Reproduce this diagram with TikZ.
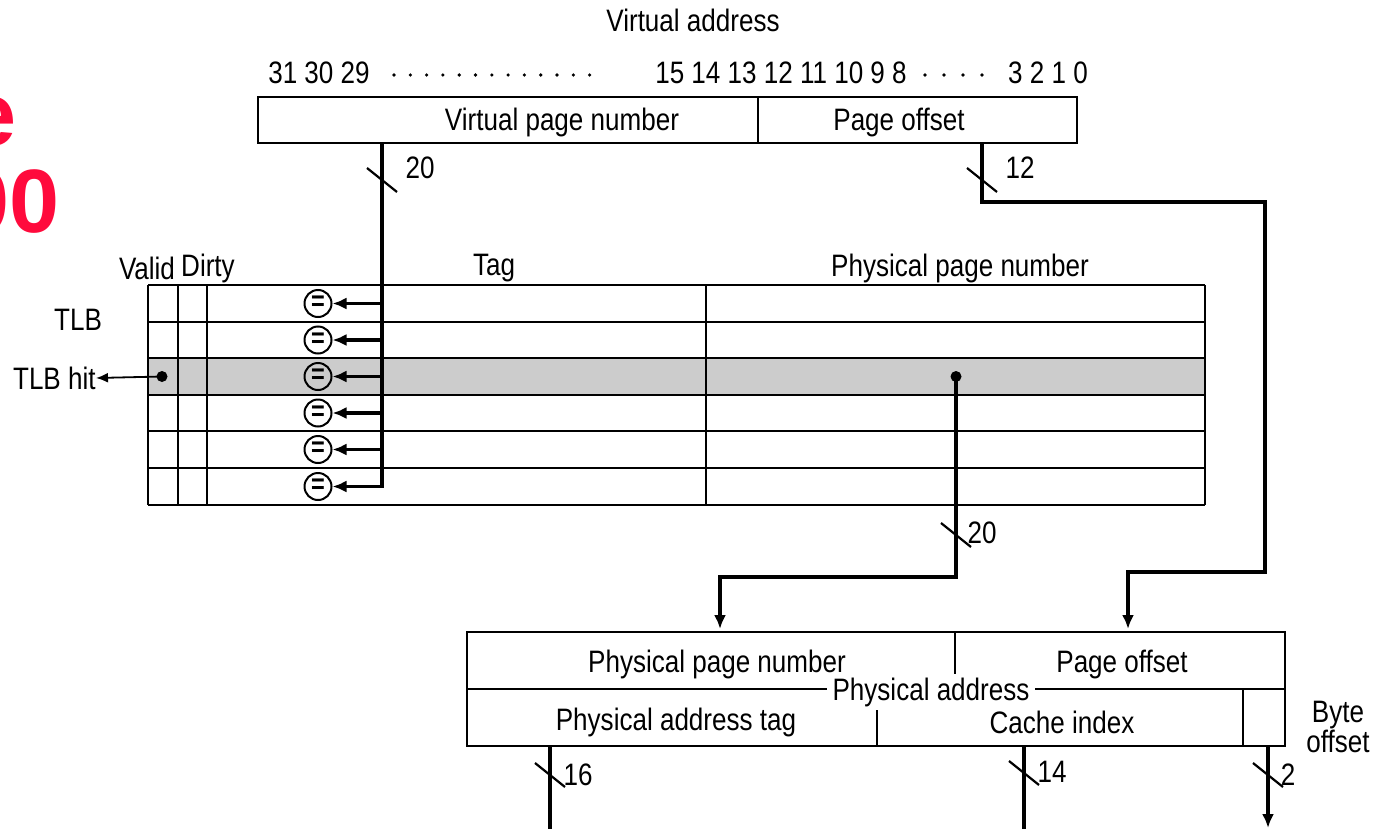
\documentclass[tikz,border=0pt]{standalone}
\usepackage{fontspec}
\usepackage{xcolor}
\usepackage{tikz}
\usetikzlibrary{arrows.meta, positioning}
\setmainfont{Liberation Sans}[FakeStretch=0.84]
\newfontfamily\titlefont{Liberation Sans}
\definecolor{cTitle}{HTML}{FF0A3C}
\definecolor{cHit}{HTML}{CCCCCC}
\newcommand{\lbl}{\fontsize{15.5}{15}\selectfont}

\begin{document}
\begin{tikzpicture}[x=0.5pt, y=-0.5pt, every node/.style={font=\lbl, inner sep=0pt},
  grid/.style={line width=1pt},
  wire/.style={line width=1.7pt},
  arr/.style={wire, -{Latex[length=7pt, width=6pt]}},
  hitarr/.style={line width=0.9pt, -{Latex[length=6pt, width=5pt]}},
  cut/.style={line width=1.1pt},
  eq/.style={circle, draw, line width=1pt, minimum size=13.5pt, font=\fontsize{14}{14}\selectfont\bfseries}]
  \useasboundingbox (0,0) rectangle (1374,829);
  % slide title, cut off at the left
  \node[anchor=base east, font=\titlefont\fontsize{45}{45}\selectfont\bfseries, text=cTitle] (ttop) at (17,145) {e};
  \node[anchor=base east, font=\titlefont\fontsize{45}{45}\selectfont\bfseries, text=cTitle] (tbot) at (60,232) {00};
  % virtual address
  \node (vaddr) at (693,20) {Virtual address};
  \node (bhi) at (319,73) {31 30 29};
  \node (bmid) at (781,73) {15 14 13 12 11 10 9 8};
  \node (blo) at (1048,73) {3 2 1 0};
  \foreach \i in {0,...,12} \fill (394+\i*16.3,75) circle (1.8);
  \foreach \i in {0,...,3} \fill (925+\i*19,75) circle (1.8);
  \draw[grid] (258,97) rectangle (1077,143);
  \draw[grid] (758,97) -- (758,143);
  \node (vpn) at (562,122) {Virtual page number};
  \node (voff) at (899,122) {Page offset};
  % TLB
  \fill[cHit] (148,358) rectangle (1205,395);
  \foreach \y in {285,322,358,395,431,468,505} \draw[grid] (148,\y) -- (1205,\y);
  \foreach \x in {148,178,207,706,1205} \draw[grid] (\x,285) -- (\x,505);
  \node (valid) at (147,268) {Valid};
  \node (dirty) at (208,268) {Dirty};
  \node (tag) at (494,268) {Tag};
  \node (tppn) at (960,268) {Physical page number};
  \node (tlb) at (78,320) {TLB};
  \node[anchor=east] (tlbhit) at (96,378) {TLB hit};
  \foreach \y [count=\k] in {303.5,340,376.5,413,449.5,486.5} {
    \node[eq] (eq\k) at (318,\y) {=};
    \draw[arr] (382,\y) -- (eq\k.east);
  }
  \coordinate (vs) at (382,143);
  \coordinate (ve) at (382,487.5);
  \draw[wire] (vs) -- (ve);
  \draw[cut] (367,168) -- (397,192);
  \node (w20a) at (420,168) {20};
  \fill (162,376.5) circle (5.5);
  \draw[hitarr] (162,376.5) -- (tlbhit.east);
  % page offset path
  \coordinate (os) at (982,143);
  \draw[arr] (os) -- (982,202) -- (1265,202) -- (1265,572) -- (1128,572) -- (1128,629);
  \draw[cut] (967,168) -- (997,192);
  \node (w12) at (1020,168) {12};
  % physical page number path
  \fill (956,376.5) circle (5.5);
  \draw[arr] (956,376.5) -- (956,577) -- (720,577) -- (720,629);
  \draw[cut] (941,523) -- (971,547);
  \node (w20b) at (982,533) {20};
  % physical address
  \draw[grid] (467,632) rectangle (1285,746);
  \draw[grid] (467,689) -- (1285,689);
  \draw[grid] (955,632) -- (955,689);
  \draw[grid] (877,689) -- (877,746);
  \draw[grid] (1243,689) -- (1243,746);
  \node (pppn) at (717,664) {Physical page number};
  \node (poff) at (1122,664) {Page offset};
  \node[fill=white, inner xsep=3pt, inner ysep=2pt] (paddr) at (931,692) {Physical address};
  \node (ptag) at (676,722) {Physical address tag};
  \node (pidx) at (1062,722) {Cache index};
  \node[align=center, font=\fontsize{15.5}{13}\selectfont] (boff) at (1338,727) {Byte\\offset};
  % outputs
  \draw[wire] (550,746) -- (550,829);
  \draw[cut] (535,763) -- (565,787);
  \node (w16) at (578,775) {16};
  \draw[wire] (1024,746) -- (1024,829);
  \draw[cut] (1009,761) -- (1039,785);
  \node (w14) at (1052,772) {14};
  \draw[arr] (1268,746) -- (1268,828);
  \draw[cut] (1253,763) -- (1283,787);
  \node (w2) at (1288,775) {2};
\end{tikzpicture}
\end{document}
